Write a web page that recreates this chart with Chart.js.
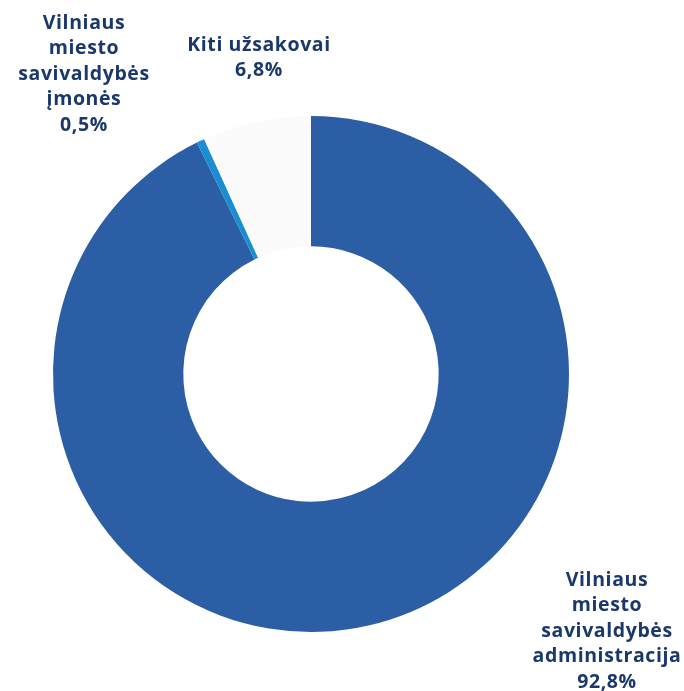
<!DOCTYPE html>
<html>
<head>
<meta charset="utf-8">
<script src="https://cdn.jsdelivr.net/npm/chart.js@4/dist/chart.umd.min.js"></script>
<style>
  html, body { margin: 0; padding: 0; background: #ffffff; }
  #wrap { width: 684px; height: 691px; position: relative; }
</style>
</head>
<body>
<div id="wrap"><canvas id="c"></canvas></div>
<script>
// Data
const categories = [
  "Vilniaus miesto savivaldybės administracija",
  "Vilniaus miesto savivaldybės įmonės",
  "Kiti užsakovai"
];
const values = [92.8, 0.5, 6.8];
const valueLabels = ["92,8%", "0,5%", "6,8%"];
const labelLines = [
  ["Vilniaus", "miesto", "savivaldybės", "administracija"],
  ["Vilniaus", "miesto", "savivaldybės", "įmonės"],
  ["Kiti užsakovai"]
];
const colors = ["#2c5ea5", "#1b8ed3", "#fbfbfb"];

// label anchors (center x, first-line y) in pixels
const labelPos = [
  { x: 607, y: 580 },
  { x: 84, y: 23 },
  { x: 259, y: 45 }
];

const labelPlugin = {
  id: 'labels',
  afterDraw(chart) {
    const ctx = chart.ctx;
    ctx.save();
    ctx.fillStyle = '#1b386b';
    ctx.font = 'bold 19.5px "Open Sans", sans-serif';
    ctx.textAlign = 'center';
    ctx.textBaseline = 'middle';
    try { ctx.letterSpacing = '0.6px'; } catch (e) {}
    const lh = 25.5;
    labelLines.forEach((lines, i) => {
      const all = lines.concat([valueLabels[i]]);
      all.forEach((t, j) => {
        ctx.fillText(t, labelPos[i].x, labelPos[i].y + j * lh);
      });
    });
    ctx.restore();
  }
};

new Chart(document.getElementById('c'), {
  type: 'doughnut',
  data: {
    labels: categories,
    datasets: [{
      data: values,
      backgroundColor: colors,
      borderWidth: 0,
      hoverOffset: 0
    }]
  },
  options: {
    responsive: true,
    maintainAspectRatio: false,
    animation: false,
    cutout: '49.5%',
    rotation: 0,
    layout: { padding: { left: 53, right: 115, top: 116, bottom: 59 } },
    plugins: {
      legend: { display: false },
      tooltip: { enabled: false }
    }
  },
  plugins: [labelPlugin]
});
</script>
</body>
</html>
